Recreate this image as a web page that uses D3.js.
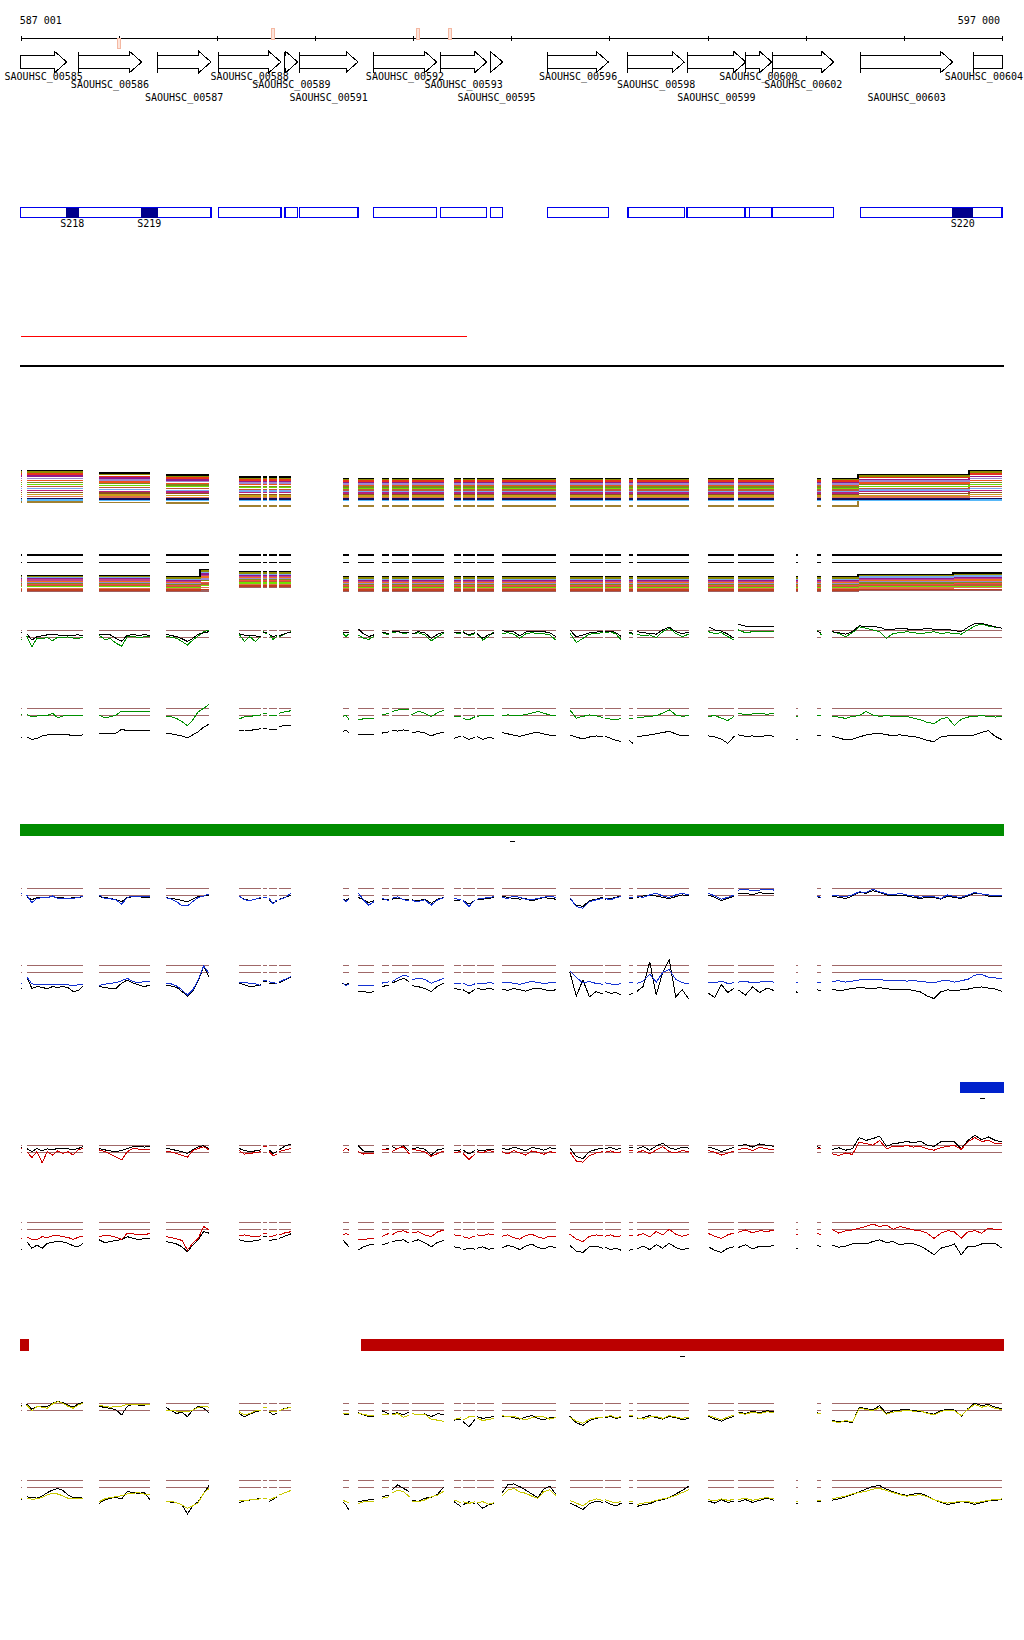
<!DOCTYPE html>
<html><head><meta charset="utf-8">
<script src="https://cdn.jsdelivr.net/npm/d3@7"></script>
<style>
body{margin:0;background:#fff}
svg{display:block;shape-rendering:crispEdges}
text{font-family:"DejaVu Sans Mono",monospace;font-size:10px;fill:#000}
</style>
</head><body>
<svg id="c" width="1024" height="1640"></svg>
<script>
// ---------------- DATA ----------------
const regionStart = 587001, regionEnd = 597000;
const axisTicks = [587001,588000,589000,590000,591000,592000,593000,594000,595000,596000,597000];
const axisEndLabels = [587001, 597000];

const geneNames = ["SAOUHSC_00585","SAOUHSC_00586","SAOUHSC_00587","SAOUHSC_00588","SAOUHSC_00589","SAOUHSC_00591","SAOUHSC_00592","SAOUHSC_00593","SAOUHSC_00595","SAOUHSC_00596","SAOUHSC_00598","SAOUHSC_00599","SAOUHSC_00600","SAOUHSC_00602","SAOUHSC_00603","SAOUHSC_00604"];
const geneStarts = [586800,587588,588393,589015,589694,589840,590594,591277,591786,592371,593189,593791,594382,594664,595557,596707];
const geneEnds   = [587470,588234,588940,589653,589824,590438,591240,591750,591913,592989,593763,594389,594654,595286,596498,597300];
const geneLabelRows = [0,1,2,0,1,2,0,1,2,0,1,2,0,1,2,0];

const siteStarts = [588003,589570,591046,591376];
const siteStrands = [-1,1,1,1];

const unitStarts = [586800,589015,589694,589840,590594,591277,591786,592371,593189,593791,594382,594430,594664,595557];
const unitEnds   = [588940,589653,589824,590438,591240,591750,591913,592989,593763,594389,594430,594654,595286,597300];
const srnaNames  = ["S218","S219","S220"];
const srnaStarts = [587463,588227,596494];
const srnaEnds   = [587592,588397,596708];

const redLineRange = [587001, 591551];
const blackLineRange = [586995, 597020];

const greenBars = [[586995,597020]];
const blueBars  = [[596573,597020]];
const redBars   = [[586995,587086],[590469,597020]];

// covered segments (bp)
const segments = [[587001,587018],[587062,587639],[587799,588319],[588479,588920],[589225,589447],[589470,589508],[589534,589610],[589636,589755],[590282,590346],[590441,590601],[590680,590757],[590782,590961],[590985,591317],[591416,591488],[591508,591630],[591652,591825],[591903,592453],[592595,592931],[592958,593121],[593197,593237],[593278,593808],[594008,594272],[594313,594677],[594901,594918],[595118,595159],[595268,597000]];

// multi-sample band tracks (step levels between breakpoints)
const bandABreaks = [587001,587750,588400,589100,590100,595533,596664];
const bandALevels = [
 [39.6,37.0,35.2,33.0,31.7,35.6,39.8],
 [38.2,35.8,33.6,31.9,30.6,34.0,38.2],
 [36.0,33.6,32.2,30.2,29.0,32.6,36.2],
 [34.0,32.0,30.0,28.8,27.6,30.6,33.8],
 [31.6,30.2,28.6,27.0,26.0,29.0,31.6],
 [29.8,28.0,26.8,25.6,24.4,27.2,29.6],
 [27.6,26.4,25.0,23.8,23.0,25.4,27.8],
 [25.8,24.4,23.4,22.4,21.6,23.6,25.6],
 [23.6,22.6,21.6,20.6,20.0,21.8,23.4],
 [21.6,20.6,19.8,19.2,18.6,20.0,21.6],
 [19.6,18.8,18.0,17.6,17.0,18.4,19.4],
 [17.4,17.0,16.4,15.8,15.6,16.4,17.6],
 [15.6,15.0,14.6,14.2,14.0,14.8,15.4],
 [13.4,13.2,12.8,12.8,12.4,13.0,13.4],
 [11.4,11.2,11.2,11.0,11.0,11.2,11.4],
 [10.0,10.0,10.0,10.0,10.0,10.0,10.0],
 [8.0,7.6,7.0,4.0,4.0,10.0,10.0]
];
const bandBBreaks = [587001,588400,588830,589100,590100,595533,596500];
const bandBLevels = [
 [24.5,23.3,30.7,28.7,23.3,25.7,27.0],
 [23.6,22.0,29.0,27.2,22.0,24.4,25.6],
 [22.4,21.0,27.6,26.0,21.0,23.0,24.0],
 [21.4,20.0,26.0,25.0,20.0,22.0,22.8],
 [20.2,19.0,24.6,24.0,19.0,20.8,21.4],
 [19.2,18.0,23.0,23.0,18.0,19.6,20.2],
 [18.0,17.0,21.0,22.0,17.0,18.4,19.0],
 [17.0,16.0,19.4,20.8,16.0,17.2,17.8],
 [16.0,15.0,17.8,19.8,15.0,16.0,16.4],
 [14.8,14.0,16.0,18.6,14.0,14.8,15.2],
 [13.8,13.0,14.4,17.2,13.0,13.6,14.0],
 [11.8,11.5,12.6,15.4,11.5,12.0,12.4],
 [10.2,10.0,10.6,14.0,10.0,10.4,10.6],
 [8.4,9.0,9.0,12.6,8.3,9.4,9.6]
];
const bandBFlat = [45, 37.7];

// ratio tracks: per segment values (null = no data), thresholds at +1/-1
const gC = [[-1.6,-1.6],[-0.6,-3.7,-1.3,-1.5,-1.0,-2.0,-1.0,-1.1,-0.9,-1.2,-1.3,-1.0],[-0.4,-1.6,-1.4,-2.7,-3.5,-0.8,-0.8,-1.0,-0.9,-0.8],[-0.6,-1.0,-1.3,-2.2,-3.2,-1.8,-0.6,0.6,1.0],[-0.1,-2.2,-0.8,-2.2,-0.8],[0.6,0.0],[-0.1,-1.6,-0.8],[-0.8,0,0.6],[0.3,-0.8,0],[-0.3,-1.3,-1.6,-0.8],[0.3,-0.3],[0.3,0.6,0.1,0.3],[-0.1,0.3,-0.3,-2.0,-0.8,0.3],[0.3,0],[0.6,-0.6,0.1],[-0.1,-1.8,-0.8,0.6],[0.1,0.3,-0.1,-1.3,0,0.3,0.1,0,-0.3,-1.8],[0.3,-2.5,-1.3,-0.1,0.1,0.3],[0.3,0.6,-0.1,-1.8],[0.1,-0.1],[-0.1,-0.6,-0.3,-1.1,0.6,1.6,0.1,-0.8,-0.1],[0.6,0.1,0.3,-0.8,-1.8],[1.1,0.3,0.6,0.8,0.6,0.8],null,[1.1,-0.3],[0.6,0.1,-0.8,0.3,2.0,1.6,1.1,0.6,-1.3,0.1,0.3,0.6,0.3,0.1,0.3,0.6,0.1,0.3,0.1,-0.1,1.1,2.2,2.8,2.2,1.9,1.6]];
const kC = [[0.5,0.5],[0.1,-1.8,-0.8,-0.6,-0.3,-0.1,-0.3,-0.6,-0.5,-0.4,-0.3,-0.6],[-0.1,-0.1,-0.3,-1.3,-2.1,-0.4,-0.3,-0.4,-0.3,-0.4],[-0.1,-0.5,-0.8,-1.4,-2.2,-1.3,-0.1,0.3,0.6],[0,-0.4,-0.4,-0.6,-0.8],[0.5,0.3],[-0.2,-0.8,-0.5],[-0.6,0.1,0.5],[0.6,0.2,0.5],[1.4,0,-0.8,-0.3],[0.5,0],[0.5,0.7,0.3,0.5],[-0.1,0.6,0.3,-1.3,-0.1,0.5],[0.5,0.3],[0.4,-0.3,0.3],[0,-1.3,-0.3,0.3],[0.9,0.6,0.6,-0.6,0.5,0.8,0.6,0.6,0.3,-0.8],[1.1,-0.8,-0.4,0.3,0.5,0.6],[0.6,0.8,0.3,-0.8],[0.4,0.2],[0.6,0.3,0.1,-0.1,1.1,1.9,0.6,0,0.5],[2.0,1.1,0.8,-0.1,-1.3],[2.7,2.2,2.0,2.0,2.2,2.0],null,[0.6,0.4],[0.6,0.3,-0.1,0.6,2.3,2.0,2.0,1.9,1.1,1.3,1.6,1.4,1.1,1.3,1.5,1.3,1.1,1.3,0.9,0.6,1.9,2.9,3.0,2.5,2.0,1.6]];
const gD = [[-0.9,-0.9],[-0.7,-1.4,-1.2,-1.0,-1.1,-0.4,-1.7,-1.2,-1.1,-1.2,-1.1,-1.2],[-0.9,-1.7,-1.4,-0.9,0.2,0,0,0,0.1,0],[-1.2,-1.4,-1.9,-2.8,-4.0,-2.3,0,1.0,2.1],[-2.1,-1.4,-1.3,-1.1,-0.9],[-0.4,-0.4],[-1.1,-1.0,-1.1],[-0.4,0,0.3],[-1.4,-0.9,-2.3],[-2.3,-2.0,-1.9,-1.9],[-0.9,-0.4],[0,0.5,0.7,0.5],[-0.9,0.2,-0.4,-1.4,-0.2,0.5],[-1.4,-1.4],[-1.9,-2.3,-1.4],[-1.4,-0.9,-1.2,-1.1],[-1.0,-0.9,-1.0,-1.1,-0.8,-0.4,0.1,-0.4,-0.9,-1.1],[0.6,-1.8,-1.3,-0.9,-1.1,-1.6],[-1.8,-2.1,-2.3,-1.9],[-1.8,-1.8],[-1.8,-1.5,-1.3,-1.1,-0.4,0.6,-0.9,-1.3,-1.1],[-1.3,-1.1,-1.8,-2.5,-1.3],[-0.4,-0.9,-0.6,-0.4,-0.7,-0.4],[-1.3,-1.3],[-1.0,-1.0],[-1.3,-1.5,-1.9,-1.3,-1.1,0.1,-0.9,-1.3,-1.1,-1.3,-1.5,-1.3,-1.8,-2.3,-3.0,-3.4,-2.1,-1.6,-4.0,-2.1,-1.5,-1.3,-1.1,-1.3,-1.5,-1.3]];
const kD = [[-7.3,-7.3],[-7.1,-7.9,-7.6,-6.9,-6.6,-6.5,-6.5,-6.6,-6.5,-6.9,-6.7,-6.6],[-6.1,-6.1,-6.3,-6.1,-5.0,-5.4,-5.4,-5.3,-5.4,-5.4],[-6.1,-6.3,-6.6,-6.9,-7.4,-6.6,-5.7,-4.4,-3.5],[-5.2,-5.2,-5.3,-5.1,-4.8],[-4.8,-4.8],[-5.0,-5.0,-5.0],[-4.1,-4.0,-3.8],[-5.7,-5.2,-6.1],[-6.6,-6.6,-6.5,-6.6],[-6.1,-5.7],[-5.2,-5.5,-5.2,-5.4],[-5.9,-5.7,-6.0,-6.9,-6.1,-6.0],[-7.6,-6.9],[-7.1,-7.9,-7.3],[-7.1,-7.9,-7.3,-7.6],[-5.9,-6.3,-6.7,-7.0,-6.6,-6.1,-5.9,-6.3,-6.7,-6.9],[-6.6,-7.2,-7.8,-7.2,-6.9,-7.0],[-7.0,-7.6,-8.2,-8.5],[-8.0,-9.0],[-7.0,-6.9,-6.6,-6.3,-5.9,-5.6,-6.3,-6.9,-6.9],[-6.9,-7.2,-7.8,-9.0,-7.0],[-6.6,-7.0,-6.9,-7.2,-6.7,-7.0],[-8.0,-8.0],[-6.8,-6.8],[-7.0,-7.5,-8.0,-7.8,-7.2,-6.6,-6.3,-6.1,-6.6,-6.7,-6.6,-6.9,-7.0,-7.5,-8.2,-8.5,-7.2,-6.9,-6.8,-6.7,-6.9,-6.6,-5.9,-5.4,-7.0,-8.0]];
const bE = [[-0.4,-0.4],[-0.9,-3.1,-1.9,-1.7,-1.7,-1.2,-1.9,-1.9,-2.0,-1.9,-1.6,-1.2],[-0.9,-1.9,-2.0,-2.3,-3.5,-1.6,-1.2,-1.2,-1.4,-1.2],[-1.7,-2.1,-2.8,-4.0,-4.0,-2.8,-1.6,-1.2,-0.6],[-1.2,-2.3,-2.5,-2.1,-1.6],[-1.6,-1.6],[-1.9,-3.5,-2.3],[-2.3,-1.6,-0.4],[-1.9,-2.8,-2.1],[-0.4,-2.3,-3.8,-2.8],[-1.9,-2.5],[-1.9,-1.4,-2.3,-2.5],[-2.5,-2.8,-2.3,-3.8,-2.3,-1.6],[-1.9,-2.3],[-2.5,-4.2,-2.3],[-2.1,-1.9,-1.6,-1.4],[-1.6,-1.9,-1.2,-1.6,-2.1,-2.3,-1.9,-1.6,-1.2,-1.6],[-1.6,-4.2,-4.7,-2.8,-2.3,-1.9],[-1.9,-2.3,-1.6,-1.4],[-1.6,-1.6],[-1.2,-1.6,-0.9,-0.4,-1.2,-1.6,-0.9,-0.4,-0.9],[-0.4,-1.2,-2.1,-1.6,-0.9],[0.5,0.7,0.3,0.5,0.7,0.5],null,[-1.2,-1.6],[-0.9,-1.2,-1.4,-0.9,0,-0.2,0.7,0,-0.6,-0.9,-0.4,-0.9,-1.2,-1.6,-1.2,-1.4,-1.9,-0.9,-1.4,-1.6,-0.9,-0.2,-0.6,-0.9,-1.2,-0.9]];
const kE = [[-0.6,-0.6],[-1.4,-2.3,-1.6,-1.6,-1.6,-1.4,-1.6,-1.7,-2.0,-1.6,-1.6,-1.4],[-1.4,-1.6,-1.9,-2.3,-2.8,-1.6,-1.4,-1.4,-1.6,-1.6],[-1.7,-1.9,-2.1,-2.5,-2.8,-2.1,-1.4,-1.2,-0.9],[-1.4,-2.1,-2.5,-2.1,-1.9],[-1.6,-1.6],[-2.3,-3.3,-2.6],[-2.1,-1.6,-0.9],[-2.1,-2.5,-1.9],[-1.6,-2.3,-3.1,-2.5],[-2.3,-2.1],[-2.1,-1.9,-2.1,-2.3],[-2.3,-2.6,-2.1,-3.3,-2.1,-1.6],[-2.5,-2.3],[-2.5,-3.5,-2.5],[-2.3,-2.1,-1.9,-1.6],[-1.2,-1.6,-1.9,-2.1,-1.9,-2.6,-2.1,-1.6,-1.9,-2.1],[-1.9,-3.8,-4.2,-2.5,-2.1,-1.6],[-2.1,-1.9,-1.6,-1.2],[-1.9,-1.9],[-1.6,-1.2,-0.9,-1.2,-1.6,-1.9,-1.4,-0.9,-1.2],[-0.9,-1.6,-2.5,-1.9,-1.2],[-0.6,-0.4,-0.9,-0.2,-0.6,-0.4],null,[-1.4,-1.8],[-1.2,-1.6,-1.9,-1.2,-0.2,-0.4,0.3,-0.2,-0.9,-1.2,-0.9,-1.2,-1.6,-1.9,-1.6,-1.6,-2.1,-1.2,-1.6,-1.9,-1.2,-0.4,-0.6,-1.2,-1.4,-1.2]];
const bF = [[-4.1,-4.1],[-2.2,-4.3,-4.6,-4.5,-4.4,-4.4,-4.5,-4.6,-4.6,-4.7,-4.6,-4.3],[-4.8,-4.4,-4.1,-4.0,-3.4,-2.7,-3.7,-3.9,-3.7,-3.7],[-4.1,-4.3,-4.9,-6.0,-7.5,-6.0,-3.2,0.8,-1.3],[-4.0,-4.0,-4.1,-4.3,-4.8],[-3.4,-3.4],[-3.7,-4.0,-4.1],[-3.7,-3.0,-2.2],[-4.0,-4.8,-4.3],[-4.8,-4.8,-4.9,-4.8],[-4.1,-3.7],[-3.7,-2.7,-1.8,-2.2],[-3.2,-2.7,-3.0,-4.1,-3.4,-2.7],[-4.1,-4.3],[-4.1,-4.9,-4.3],[-4.1,-4.3,-4.0,-4.1],[-4.0,-3.8,-4.2,-4.4,-4.0,-3.6,-3.9,-4.2,-4.0,-3.8],[-0.6,-2.5,-4.0,-3.6,-4.2,-4.4],[-4.0,-4.3,-4.6,-4.2],[-4.0,-4.0],[-4.2,-3.5,-1.5,-3.8,-1.0,-0.2,-3.0,-4.0,-4.2],[-3.8,-4.0,-3.5,-4.2,-4.0],[-3.8,-3.6,-4.0,-3.8,-3.5,-3.8],[-4.0,-4.0],[-3.8,-3.8],[-3.6,-3.4,-3.8,-3.5,-3.2,-3.0,-3.2,-3.1,-3.3,-3.2,-3.4,-3.5,-3.4,-3.6,-3.8,-4.0,-3.5,-3.3,-3.8,-3.4,-3.0,-1.8,-1.6,-2.4,-2.6,-2.8]];
const kF = [[-5.6,-5.6],[-2.2,-5.6,-5.1,-5.3,-5.7,-5.1,-5.3,-5.1,-5.3,-6.5,-6.2,-4.9],[-5.1,-5.3,-5.6,-5.6,-4.1,-3.2,-4.1,-4.6,-5.1,-4.6],[-4.6,-4.9,-5.3,-6.5,-7.8,-6.5,-3.4,0.6,-2.2],[-4.1,-4.6,-5.1,-4.9,-4.6],[-3.6,-3.6],[-4.1,-4.3,-4.1],[-4.0,-3.2,-2.4],[-4.1,-4.6,-4.1],[-6.5,-6.5,-6.8,-6.5],[-5.1,-4.6],[-4.1,-3.4,-2.7,-3.7],[-4.8,-5.1,-5.6,-6.5,-4.9,-4.1],[-5.6,-6.0],[-6.0,-7.0,-5.9],[-5.6,-6.0,-5.6,-5.9],[-5.8,-6.2,-5.6,-6.0,-6.4,-5.8,-5.5,-5.9,-6.3,-6.0],[-0.8,-7.8,-3.2,-8.0,-6.5,-7.2],[-6.5,-7.0,-6.8,-7.5],[-7.5,-7.0],[-6.5,-5.0,2.0,-7.5,-1.0,2.5,-8.0,-6.0,-8.6],[-7.0,-8.2,-4.5,-6.8,-5.5],[-6.0,-7.5,-5.2,-6.8,-5.5,-6.2],[-6.5,-7.0],[-6.0,-6.4],[-5.8,-6.2,-6.0,-5.6,-5.4,-5.5,-5.6,-5.4,-5.7,-5.9,-6.0,-5.8,-6.2,-6.6,-7.8,-8.5,-6.6,-6.0,-6.3,-6.0,-5.8,-5.4,-5.2,-5.5,-5.8,-6.4]];
const rG = [[0.1,0.1],[-0.8,-2.5,-0.8,-4.0,-0.8,-1.8,-0.6,-1.3,-0.8,-1.8,-0.3,0.1],[-0.3,-0.8,-1.5,-2.4,-3.2,-0.8,0.1,-0.1,-0.3,-0.3],[-0.6,-0.9,-1.3,-1.9,-2.4,-0.5,0.1,0.6,-0.3],[-0.5,-1.5,-1.3,-1.1,-0.8],[0.6,0.6],[-0.8,-2.0,-1.5],[-0.8,-0.3,0.1],[-0.8,0.1,-0.5],[-0.8,-1.5,-1.3,-1.5],[-0.1,-0.1],[-0.8,0.1,0.6,-1.5],[-0.1,-0.5,-0.8,-2.2,-1.3,-0.6],[-1.1,-0.8],[-1.3,-3.0,-1.5],[-0.8,-1.1,-0.5,-0.8],[-0.8,-1.5,-0.5,-1.2,-1.8,-0.6,-1.0,-1.6,-0.8,-1.2],[-0.8,-3.5,-3.8,-2.0,-1.2,-0.8],[-1.0,-0.6,-1.2,-0.8],[-0.5,-0.5],[-1.0,-0.5,-1.5,-0.3,0.6,-0.8,-1.2,-0.5,-0.8],[-0.5,-1.0,-1.8,-1.2,-0.6],[-0.2,0.2,-0.5,0.4,0.0,-0.3],null,[0.0,0.0],[-1.4,-1.9,-1.2,-1.6,1.9,1.5,1.0,2.4,0.0,0.7,0.5,1.0,0.5,0.7,0.0,-0.4,0.3,0.7,1.0,-0.2,2.0,3.2,2.1,2.4,1.5,1.5]];
const kG = [[0.3,0.3],[0.1,-0.8,0.1,-0.6,0,-0.3,0.1,0.1,0,-0.3,0.1,0.6],[0.1,-0.3,-0.6,-0.8,-0.5,0.1,0.6,0.6,0.5,0.6],[0.1,-0.1,-0.5,-0.8,-1.3,-0.3,0.6,0.9,0.1],[0.1,-0.5,-0.8,-0.6,-0.3],[0.6,0.6],[-0.3,-1.3,-0.8],[-0.3,0.8,1.4],[-0.8,0.1,-0.3],[0.9,-0.6,-0.8,-0.7],[-0.3,0.1],[0.6,0,0.9,-0.8],[0.1,0.3,-0.1,-1.8,-0.3,0.1],[-0.6,-0.3],[-0.3,-1.5,-0.5],[-0.3,-0.6,-0.1,-0.3],[0.2,-0.3,0.5,0.0,-0.6,0.4,0.1,-0.4,0.3,0.0],[0.3,-2.2,-2.8,-0.8,-0.2,0.2],[0.0,0.4,-0.2,0.2],[0.4,0.4],[0.0,0.6,-0.4,0.8,1.6,0.3,-0.2,0.5,0.2],[0.5,0.0,-0.8,-0.2,0.4],[0.8,1.2,0.5,1.4,1.0,0.7],null,[0.7,-0.2],[-0.2,0.3,-0.4,0.0,3.2,2.4,2.9,3.6,0.7,1.5,1.7,2.1,1.7,2.2,1.0,0.7,2.0,2.0,2.0,0.0,2.4,3.9,2.6,3.4,2.4,2.0]];
const rH = [[-3.6,-3.6],[-3.1,-3.9,-4.0,-3.1,-3.4,-2.9,-2.8,-3.1,-3.3,-3.9,-3.3,-2.9],[-3.1,-2.7,-2.9,-3.3,-3.9,-2.1,-2.3,-2.6,-2.4,-2.3],[-3.1,-3.4,-3.7,-4.2,-6.9,-5.0,-3.6,-0.2,-1.2],[-2.9,-2.6,-2.9,-3.1,-2.9],[-2.3,-2.3],[-3.1,-2.9,-2.6],[-2.6,-2.0,-1.7],[-2.6,-2.3,-2.4],[-4.0,-3.9,-3.7,-3.6],[-3.1,-2.1],[-2.6,-1.7,-1.4,-2.1],[-2.1,-1.7,-2.6,-3.1,-1.7,-1.2],[-2.6,-2.9],[-3.1,-3.6,-2.9],[-2.6,-2.9,-2.3,-2.6],[-3.0,-2.6,-3.4,-3.8,-2.8,-2.4,-3.2,-3.6,-2.9,-3.1],[-2.4,-3.8,-4.5,-3.0,-2.6,-2.8],[-3.0,-2.6,-3.2,-2.8],[-2.8,-2.8],[-2.8,-2.2,-3.2,-1.6,-2.6,-1.0,-2.4,-3.0,-2.5],[-2.2,-3.0,-3.6,-2.6,-2.0],[-1.8,-1.2,-2.0,-1.4,-1.6,-1.3],[-2.5,-2.5],[-2.2,-2.6],[-1.0,-2.1,-1.4,-1.2,-0.7,-0.2,0.5,-0.2,0.2,-1.0,-0.2,-0.7,-1.2,-1.4,-2.1,-3.6,-2.1,-1.4,-1.7,-3.6,-1.7,-1.4,-2.1,-0.7,-1.0,-1.2]];
const kH = [[-6.9,-6.9],[-4.5,-6.4,-5.5,-6.4,-5.0,-4.7,-4.5,-4.6,-5.0,-5.7,-6.0,-5.0],[-4.0,-4.8,-4.5,-4.2,-3.9,-3.1,-3.6,-3.9,-3.7,-3.6],[-4.5,-4.8,-5.2,-6.0,-7.4,-5.5,-4.0,-1.7,-2.1],[-4.0,-4.4,-4.5,-4.2,-4.0],[-3.1,-3.1],[-4.2,-4.0,-3.9],[-3.6,-2.9,-2.3],[-4.0,-5.0,-6.0],[-6.9,-6.0,-5.5,-5.3],[-5.5,-4.8],[-4.5,-4.2,-4.0,-5.0],[-4.5,-4.0,-4.8,-6.0,-4.7,-4.2],[-6.0,-6.4],[-6.9,-6.4,-6.7],[-6.4,-6.0,-6.7,-6.4],[-6.4,-5.6,-6.0,-6.8,-5.8,-5.2,-6.2,-6.6,-5.9,-6.2],[-5.6,-7.2,-7.6,-6.0,-5.8,-6.4],[-6.2,-6.8,-6.4,-7.0],[-7.0,-6.8],[-6.6,-5.8,-6.8,-5.4,-6.4,-5.0,-6.2,-6.8,-6.4],[-6.0,-7.0,-7.6,-6.4,-6.0],[-6.2,-5.4,-6.6,-5.8,-6.0,-5.6],[-6.5,-6.5],[-5.6,-6.0],[-5.5,-6.1,-5.8,-5.2,-5.0,-5.2,-4.5,-4.0,-4.8,-4.5,-5.5,-5.0,-5.2,-5.8,-6.9,-8.3,-6.4,-5.9,-5.2,-8.3,-5.8,-5.9,-5.2,-5.0,-5.0,-6.4]];
const yI = [[0,0],[0.4,-1.2,0,-0.2,-0.5,0.7,1.4,0.9,0.1,-0.5,0.4,0.9],[0.4,0,-0.2,0,0.1,0.6,0.6,0.6,0.5,0.6],[-1.0,-1.2,-1.3,-1.4,-1.5,-1.0,-0.2,0,-0.2],[-1.5,-2.4,-2.0,-1.2,-1.2],[-0.2,-0.2],[-1.5,-1.5,-1.5],[-1.2,-0.6,-0.3],[-2.0,-2.0,-2.0],[-2.0,-2.2,-2.6,-2.5],[-2.4,-2.4],[-2.4,-2.0,-3.1,-2.4],[-2.0,-2.4,-2.2,-3.7,-3.9,-4.3],[-3.7,-3.2],[-3.9,-2.9,-2.7],[-3.4,-4.0,-3.7,-3.4],[-2.5,-3.0,-2.8,-3.4,-3.8,-3.2,-2.8,-3.0,-3.6,-3.2],[-3.0,-4.2,-4.8,-3.6,-3.2,-3.0],[-3.0,-2.6,-3.2,-2.8],[-2.6,-2.6],[-3.2,-3.6,-3.0,-2.8,-3.4,-2.6,-3.0,-3.4,-3.0],[-2.6,-3.2,-3.8,-3.0,-2.4],[-1.8,-2.2,-1.6,-2.0,-1.5,-1.8],null,[-2.0,-2.0],[-4.2,-4.6,-4.0,-4.4,-0.5,-0.8,-1.2,-0.3,-2.2,-1.6,-1.4,-1.0,-1.4,-1.2,-2.0,-2.4,-1.4,-1.0,-1.2,-2.6,-0.8,0.6,-0.2,0.2,-0.6,-0.8]];
const kI = [[0.4,0.4],[0.7,-0.8,0,0.1,0,0.9,1.4,1.1,0.4,-0.2,0.7,1.2],[0.1,-0.3,-0.5,-1.0,-2.4,0.1,0.6,0.4,0.4,0.6],[-0.2,-1.2,-2.0,-1.6,-2.9,-1.0,0,-0.5,-1.8],[-2.0,-2.9,-2.2,-1.5,-1.2],[-0.2,-0.2],[-1.5,-2.4,-2.0],[-1.2,-0.5,-0.3],[-1.8,-2.4,-2.1],[-1.8,-2.4,-2.9,-2.7],[-1.2,-2.1],[-2.0,-1.8,-2.4,-1.5],[-2.0,-2.4,-2.1,-2.9,-2.0,-2.4],[-3.9,-3.7],[-4.3,-5.8,-3.7],[-2.9,-3.4,-3.1,-2.9],[-3.0,-2.8,-3.2,-3.6,-3.0,-2.6,-3.4,-3.8,-3.2,-3.0],[-2.8,-4.6,-5.4,-4.0,-3.4,-3.0],[-3.2,-2.8,-3.4,-3.0],[-2.8,-2.8],[-3.6,-3.2,-2.6,-3.2,-3.6,-2.8,-3.2,-3.8,-3.4],[-2.8,-3.6,-4.2,-3.4,-2.8],[-1.6,-2.0,-1.4,-1.8,-1.2,-1.6],null,[-1.8,-2.2],[-4.0,-4.4,-4.2,-4.6,-0.2,-0.6,-1.0,0.2,-2.0,-1.2,-1.0,-0.8,-1.2,-1.4,-1.8,-2.2,-1.2,-0.8,-1.0,-2.8,-0.6,1.0,0.2,0.6,-0.2,-0.6]];
const yJ = [[-4.4,-4.4],[-4.2,-4.5,-4.4,-4.0,-3.3,-2.8,-3.0,-3.5,-4.2,-4.4,-4.4,-4.4],[-5.2,-4.4,-4.0,-3.8,-3.5,-3.0,-2.8,-2.6,-3.0,-3.3],[-5.2,-5.0,-5.5,-6.1,-7.1,-6.4,-5.5,-2.8,-1.4],[-4.9,-4.8,-4.7,-4.5,-4.4],[-4.2,-4.2],[-4.7,-4.2,-3.8],[-3.3,-2.6,-2.0],[-4.7,-5.2,-5.5],[-5.7,-5.2,-5.0,-5.0],[-4.2,-3.8],[-2.8,-1.9,-2.3,-3.8],[-5.2,-5.2,-4.7,-3.8,-3.3,-2.1],[-4.7,-5.5],[-5.2,-5.7,-5.2],[-5.5,-5.2,-5.9,-5.5],[-3.6,-1.9,-1.4,-2.4,-2.8,-3.6,-4.2,-2.4,-1.8,-3.4],[-4.8,-5.6,-6.4,-5.0,-4.4,-4.8],[-4.6,-5.2,-5.6,-5.0],[-5.0,-5.0],[-6.0,-5.6,-5.4,-4.8,-4.4,-4.0,-3.4,-2.6,-1.8],[-4.6,-5.0,-4.4,-4.8,-4.6],[-4.6,-4.2,-4.8,-4.4,-4.0,-4.4],[-5.0,-5.0],[-4.8,-4.8],[-4.4,-4.0,-3.6,-3.0,-2.6,-2.2,-1.6,-1.4,-2.0,-2.6,-3.2,-3.6,-3.4,-3.2,-3.8,-4.6,-5.2,-5.6,-5.4,-5.0,-5.2,-5.6,-5.2,-4.8,-4.6,-4.4]];
const kJ = [[-4.7,-4.7],[-3.8,-4.0,-4.2,-3.6,-2.6,-1.9,-1.4,-1.9,-3.3,-4.0,-4.0,-4.2],[-5.7,-4.7,-4.2,-4.0,-4.4,-2.3,-2.6,-2.8,-2.6,-4.7],[-5.2,-5.3,-5.5,-6.1,-8.7,-6.4,-5.2,-2.8,-0.6],[-5.5,-5.0,-4.7,-4.5,-4.2],[-4.2,-4.2],[-5.2,-4.5,-3.8],[-3.3,-2.6,-2.0],[-5.2,-6.1,-7.6],[-5.2,-4.9,-4.7,-4.7],[-3.8,-3.3],[-1.9,-0.4,-1.4,-2.3],[-4.7,-5.2,-4.2,-4.0,-3.0,-0.9],[-5.2,-6.6],[-6.1,-5.2,-5.7],[-5.7,-7.1,-6.1,-5.7],[-2.8,-0.4,-0.1,-0.9,-1.9,-3.0,-4.0,-1.6,-0.8,-3.0],[-5.6,-6.4,-7.4,-5.8,-5.0,-5.4],[-5.2,-6.0,-6.4,-5.6],[-5.8,-5.8],[-6.6,-6.0,-5.8,-5.0,-4.6,-4.0,-3.0,-2.0,-0.8],[-5.0,-5.6,-4.6,-5.4,-5.0],[-5.2,-4.6,-5.4,-4.8,-4.2,-4.8],[-5.6,-5.6],[-5.2,-5.2],[-4.8,-4.4,-3.8,-3.2,-2.4,-1.6,-0.8,-0.6,-1.6,-2.4,-3.0,-3.4,-3.0,-2.8,-3.6,-4.6,-5.4,-6.0,-5.6,-5.2,-5.4,-6.0,-5.4,-5.0,-4.8,-4.6]];
const thresholds = [1, -1];

// ---------------- STYLE / LAYOUT ----------------
const bandAColors = ["#000000","#8c8c00","#e8301c","#901a8c","#9c88d0","#f05020","#7c8c1c","#70e000","#c05838","#78a8f0","#b8207c","#8c5020","#c8a018","#e07050","#101060","#58b8f8","#a08030"];
const bandBColors = ["#000000","#8c8c00","#78a8f0","#901a8c","#c0408c","#f07020","#9c88d0","#7c8c1c","#f05040","#c05838","#70e000","#e07050","#c04020","#a06060"];
const GREEN="#009000", BLUE="#1432d2", RED="#cc0000", YEL="#c8c800", THR="#a06868";

const svg = d3.select("#c");
const x = d3.scaleLinear().domain([regionStart, regionEnd]).range([20.7, 1002]);
const clip = v => Math.max(regionStart, Math.min(regionEnd, v));

// axis
const fmt = d3.formatLocale({decimal:".", thousands:" ", grouping:[3], currency:["",""]}).format(",d");
svg.append("g").attr("transform","translate(0,37.5)")
  .call(d3.axisBottom(x).tickValues([]).tickSizeOuter(0))
  .call(g=>g.select(".domain").attr("stroke","#000"));
svg.append("g").attr("transform","translate(0,35.5)")
  .call(d3.axisBottom(x).tickValues(axisTicks).tickSize(5).tickFormat(""))
  .call(g=>{g.select(".domain").remove(); g.selectAll("line").attr("stroke","#000");});
svg.append("text").attr("x", x(axisEndLabels[0]) - 1).attr("y", 24).text(fmt(axisEndLabels[0]));
svg.append("text").attr("x", x(axisEndLabels[1]) - 2).attr("y", 24).attr("text-anchor","end").text(fmt(axisEndLabels[1]));

// sites
siteStarts.forEach((p,i)=>{
  const top = siteStrands[i] < 0 ? 38 : 28.5;
  svg.append("rect").attr("x", x(p)-1.5).attr("y", top).attr("width",3).attr("height",10.5)
    .attr("fill","#fde4da").attr("stroke","#f4b8a2").attr("stroke-width",1);
});

// genes
const head = 12, gTop=51.5, gBot=72.5, bTop=55, bBot=68, gMid=62;
geneNames.forEach((name,i)=>{
  const s = x(clip(geneStarts[i])), e = x(clip(geneEnds[i]));
  const cs = geneStarts[i] < regionStart, ce = geneEnds[i] > regionEnd;
  let d;
  if (ce) d = `M${s},${bTop}H${e}V${bBot}H${s}Z`;
  else {
    const h = Math.min(head, e - s), hs = e - h;
    d = (hs - s < 0.5) ? `M${s},${gTop}L${e},${gMid}L${s},${gBot}Z`
      : `M${s},${bTop}H${hs}V${gTop}L${e},${gMid}L${hs},${gBot}V${bBot}H${s}Z`;
  }
  svg.append("path").attr("d", d).attr("fill","#fff").attr("stroke","#000").attr("stroke-width",1);
  if (!cs) svg.append("line").attr("x1",s).attr("x2",s).attr("y1",gTop).attr("y2",gBot).attr("stroke","#000");
  const rowY = [80, 88, 101][geneLabelRows[i]];
  const t = svg.append("text").attr("x",(s+e)/2).attr("y",rowY).attr("text-anchor","middle").text(name);
  const bb = t.node().getBBox();
  if (bb.x + bb.width > 1023) t.attr("x", (s+e)/2 - (bb.x + bb.width - 1023));
  if (bb.x < 1) t.attr("x", (s+e)/2 + (1 - bb.x));
});

// transcription units + sRNAs
unitStarts.forEach((s0,i)=>{
  const s = x(clip(s0)), e = x(clip(unitEnds[i]));
  svg.append("rect").attr("x",s).attr("y",207.5).attr("width",e-s).attr("height",10)
    .attr("fill","#fff").attr("stroke","#0000ee").attr("stroke-width",1.4);
});
srnaNames.forEach((n,i)=>{
  const s = x(srnaStarts[i]), e = x(srnaEnds[i]);
  svg.append("rect").attr("x",s).attr("y",207.5).attr("width",e-s).attr("height",10).attr("fill","#00008c");
  svg.append("text").attr("x",(s+e)/2).attr("y",227).attr("text-anchor","middle").text(n);
});

// red / black lines
svg.append("line").attr("x1",x(redLineRange[0])).attr("x2",x(redLineRange[1])).attr("y1",336).attr("y2",336).attr("stroke","#ff0000");
svg.append("line").attr("x1",x(blackLineRange[0])).attr("x2",x(blackLineRange[1])).attr("y1",366).attr("y2",366).attr("stroke","#000").attr("stroke-width",2);

// band tracks
function drawBands(levels, breaks, colors, yScale, useSeg, width){
  const line = d3.line().x(d=>x(d[0])).y(d=>yScale(d[1])).curve(d3.curveStepAfter);
  levels.forEach((lv,k)=>{
    segments.forEach((seg,i)=>{
      if (!useSeg(i)) return;
      const pts = [seg[0], ...breaks.filter(b=>b>seg[0] && b<seg[1]), seg[1]];
      const data = pts.map(p=>[p, lv[Math.max(0, d3.bisectRight(breaks,p)-1)]]);
      svg.append("path").attr("d",line(data)).attr("fill","none").attr("stroke",colors[k]).attr("stroke-width",width);
    });
  });
}
const yA = d3.scaleLinear().domain([0,40]).range([510,470]);
const yB = d3.scaleLinear().domain([0,40]).range([600,560]);
drawBands(bandALevels.slice().reverse(), bandABreaks, bandAColors.slice().reverse(), yA, i=>i!==23, 1.4);
drawBands(bandBLevels.slice().reverse(), bandBBreaks, bandBColors.slice().reverse(), yB, ()=>true, 1.4);
bandBFlat.forEach(v=>{
  segments.forEach(seg=>{
    svg.append("line").attr("x1",x(seg[0])).attr("x2",x(seg[1])).attr("y1",yB(v)).attr("y2",yB(v)).attr("stroke","#000").attr("stroke-width",1.5);
  });
});

// ratio tracks
const ratioTracks = [
  {c:633.8, layers:[[gC,GREEN],[kC,"#000"]]},
  {c:711.8, layers:[[gD,GREEN],[kD,"#000"]]},
  {c:891.8, layers:[[kE,"#000"],[bE,BLUE]]},
  {c:968.8, layers:[[kF,"#000"],[bF,BLUE]]},
  {c:1148.8, layers:[[kG,"#000"],[rG,RED]]},
  {c:1225.8, layers:[[kH,"#000"],[rH,RED]]},
  {c:1406.5, layers:[[kI,"#000"],[yI,YEL]]},
  {c:1483.5, layers:[[kJ,"#000"],[yJ,YEL]]}
];
ratioTracks.forEach(t=>{
  const ys = d3.scaleLinear().domain([-1,1]).range([t.c+3.5, t.c-3.5]);
  const line = d3.line().x(d=>x(d[0])).y(d=>ys(d[1]));
  const ref = t.layers[0][0];
  segments.forEach((seg,i)=>{
    if (!ref[i]) return;
    thresholds.forEach(v=>{
      svg.append("line").attr("x1",x(seg[0])).attr("x2",x(seg[1])).attr("y1",ys(v)).attr("y2",ys(v)).attr("stroke",THR);
    });
  });
  t.layers.forEach(([ser,col])=>{
    ser.forEach((vals,i)=>{
      if (!vals) return;
      const seg = segments[i], n = vals.length;
      const data = vals.map((v,j)=>[seg[0] + (seg[1]-seg[0]) * j/(n-1), v]);
      svg.append("path").attr("d",line(data)).attr("fill","none").attr("stroke",col).attr("stroke-width",1);
    });
  });
});

// region bars
function drawBars(bars, color, top){
  bars.forEach(b=>{
    const s = x(b[0]), e = x(b[1]);
    svg.append("rect").attr("x",s).attr("y",top).attr("width",e-s).attr("height",11.5).attr("fill",color);
    if (e - s > 30) {
      const cx = (s+e)/2;
      svg.append("line").attr("x1",cx-2.5).attr("x2",cx+2.5).attr("y1",top+17).attr("y2",top+17).attr("stroke","#000");
    }
  });
}
drawBars(greenBars, "#008c00", 824);
drawBars(blueBars, "#0022cc", 1081.5);
drawBars(redBars, "#bb0000", 1339);
</script>
</body></html>
